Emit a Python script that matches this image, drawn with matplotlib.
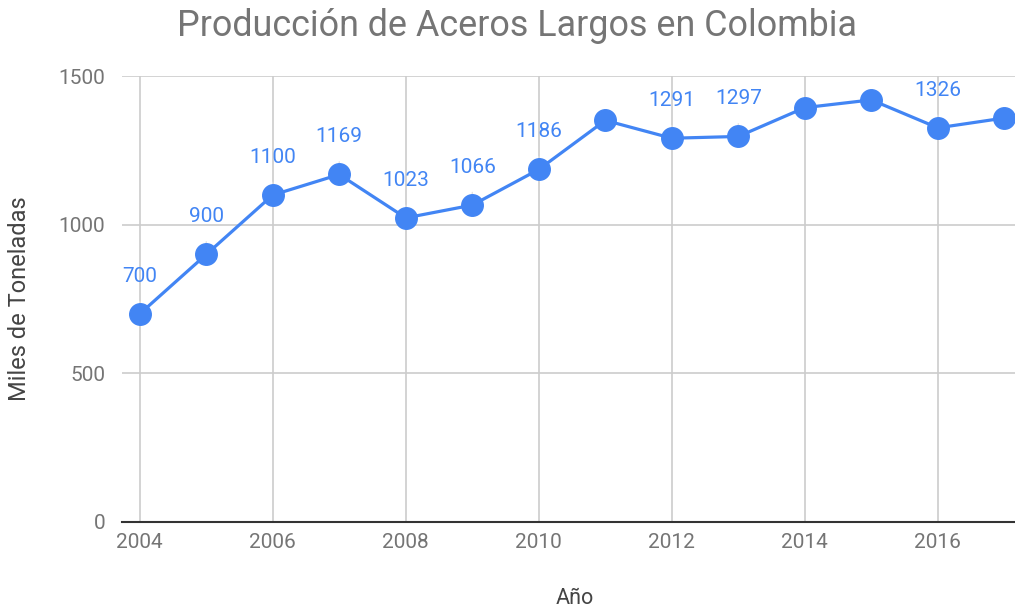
import matplotlib
matplotlib.use("Agg")
import matplotlib.pyplot as plt

plt.rcParams["font.family"] = ["Roboto", "DejaVu Sans"]

# datos
years = [2004, 2005, 2006, 2007, 2008, 2009, 2010, 2011, 2012, 2013, 2014, 2015, 2016, 2017]
values = [700, 900, 1100, 1169, 1023, 1066, 1186, 1351, 1291, 1297, 1394, 1420, 1326, 1359]
labeled_years = [2004, 2005, 2006, 2007, 2008, 2009, 2010, 2012, 2013, 2016]
x_ticks = [2004, 2006, 2008, 2010, 2012, 2014, 2016]
y_ticks = [0, 500, 1000, 1500]

BLUE = "#4285F4"
GRAY = "#757575"

fig = plt.figure(figsize=(10.15, 6.09), dpi=100)
ax = fig.add_axes([0.120, 0.143, 0.880, 0.732])

ax.plot(years, values, color=BLUE, lw=2.3, marker="o", markersize=15.5,
        zorder=3, clip_on=False)

for yr, v in zip(years, values):
    if yr in labeled_years:
        ax.annotate(str(v), xy=(yr, v), xytext=(0, 27), textcoords="offset points",
                    ha="center", va="center", color=BLUE, fontsize=15, zorder=1,
                    arrowprops=dict(arrowstyle="-", color="#e3e3e3", lw=1,
                                    shrinkA=9, shrinkB=0))

ax.set_xlim(2003.73, 2017.16)
ax.set_ylim(0, 1500)
ax.set_xticks(x_ticks)
ax.set_yticks(y_ticks)
ax.tick_params(length=0, labelsize=15, labelcolor=GRAY, pad=8)
ax.tick_params(axis="y", pad=12)
ax.grid(True, color="#cccccc", lw=1.2)
ax.set_axisbelow(True)
for side in ["top", "right", "left"]:
    ax.spines[side].set_visible(False)
ax.spines["bottom"].set_color("#333333")
ax.spines["bottom"].set_linewidth(1.5)
ax.spines["bottom"].set_zorder(2)

fig.text(0.509, 0.958, "Producción de Aceros Largos en Colombia", ha="center", va="center",
         fontsize=25.8, color=GRAY)
fig.text(0.019, 0.51, "Miles de Toneladas", rotation=90, ha="center", va="center",
         fontsize=17, color="#444444")
fig.text(0.566, 0.018, "Año", ha="center", va="center", fontsize=15.5, color="#444444")

fig.savefig("out.png", dpi=100)
